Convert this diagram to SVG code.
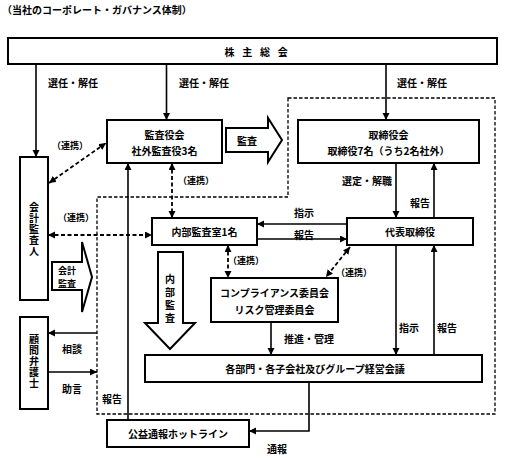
<svg xmlns="http://www.w3.org/2000/svg" width="511" height="458" viewBox="0 0 511 458">
<defs>
<style>
text{font-family:"Noto Sans CJK JP","Noto Sans CJK SC",sans-serif;font-size:10px;font-weight:bold;fill:#000}
.c{text-anchor:middle;dominant-baseline:central}
.v{text-anchor:middle;writing-mode:vertical-rl}
.s{font-size:9px}
.box{fill:#fff;stroke:#000;stroke-width:2}
.blk{fill:#fff;stroke:#000;stroke-width:2;stroke-linejoin:miter}
.ln{fill:none;stroke:#000;stroke-width:1.6}
.dl{fill:none;stroke:#000;stroke-width:1.8;stroke-dasharray:4 2.5}
.fr{fill:none;stroke:#000;stroke-width:1.3;stroke-dasharray:3.5 2}
.a{marker-end:url(#ah)}
.b{marker-start:url(#ah);marker-end:url(#ah)}
</style>
<marker id="ah" markerUnits="userSpaceOnUse" markerWidth="8" markerHeight="8" refX="7" refY="3.5" orient="auto-start-reverse">
<path d="M0,0 L7,3.5 L0,7 Z" fill="#000"/>
</marker>
</defs>
<rect width="511" height="458" fill="#fff"/>
<text x="2" y="14" style="font-size:10px">（当社のコーポレート・ガバナンス体制）</text>

<g id="frame"><path class="fr" d="M288,98 H495 V414 H97 V197 H288 Z"/></g>

<g id="connectors">
<path class="ln a" d="M36,64 V157"/>
<path class="ln a" d="M166.5,64 V120"/>
<path class="ln a" d="M386,64 V120"/>
<path class="ln a" d="M396,163 V218"/>
<path class="ln a" d="M434,218 V163"/>
<path class="ln a" d="M347,224 H257"/>
<path class="ln a" d="M257,239 H347"/>
<path class="ln a" d="M396,245 V355"/>
<path class="ln a" d="M434,355 V245"/>
<path class="ln a" d="M271,322 V355"/>
<path class="ln a" d="M128,420 V163"/>
<path class="ln a" d="M309,382 V431 H249"/>
<path class="ln a" d="M97,333 H48"/>
<path class="ln a" d="M48,372 H97"/>
<path class="dl b" d="M49,183 L106,143"/>
<path class="dl b" d="M172,163 V218"/>
<path class="dl b" d="M48,235 H152"/>
<path class="dl b" d="M228,245 V278"/>
<path class="dl b" d="M350,247 L326,277"/>
</g>

<g id="block-arrows">
<polygon class="blk" points="226,128 268,128 268,118 282,140 268,162 268,152 226,152"/>
<text class="c" x="247" y="140">監査</text>
<polygon class="blk" points="52,262 82,262 82,242 92,277 82,312 82,290 52,290"/>
<text class="c" x="67" y="270" style="font-size:9px">会計</text>
<text class="c" x="67" y="283.5" style="font-size:9px">監査</text>
<polygon class="blk" points="158,252 183,252 183,323 195,323 170,349 145,323 158,323"/>
<text class="v" x="170" y="300" letter-spacing="3">内部監査</text>
</g>

<g id="shareholders"><rect class="box" x="8" y="38" width="489" height="26"/><text class="c" x="260" y="51" letter-spacing="7.7">株主総会</text></g>
<g id="auditors-board"><rect class="box" x="107" y="120" width="115" height="43"/><text class="c" x="164.5" y="134">監査役会</text><text class="c" x="164.5" y="150">社外監査役3名</text></g>
<g id="board"><rect class="box" x="298" y="120" width="181" height="43"/><text class="c" x="388.5" y="134">取締役会</text><text class="c" x="388.5" y="150">取締役7名（うち2名社外）</text></g>
<g id="accounting-auditor"><rect class="box" x="20" y="157" width="28" height="143"/>
<text class="v" x="34" y="229.5" letter-spacing="1">会計監査人</text></g>
<g id="internal-audit"><rect class="box" x="152" y="218" width="105" height="27"/><text class="c" x="204.5" y="231.5">内部監査室1名</text></g>
<g id="president"><rect class="box" x="347" y="218" width="126" height="27"/><text class="c" x="410" y="231.5">代表取締役</text></g>
<g id="compliance"><rect class="box" x="211" y="278" width="127" height="44"/><text class="c" x="274.5" y="292">コンプライアンス委員会</text><text class="c" x="274.5" y="309">リスク管理委員会</text></g>
<g id="lawyer"><rect class="box" x="20" y="317" width="28" height="92"/>
<text class="v" x="34" y="361.5" letter-spacing="1">顧問弁護士</text></g>
<g id="departments"><rect class="box" x="145" y="355" width="337" height="27"/><text class="c" x="315" y="368.5">各部門・各子会社及びグループ経営会議</text></g>
<g id="hotline"><rect class="box" x="107" y="420" width="142" height="27"/><text class="c" x="178" y="433.5">公益通報ホットライン</text></g>

<g id="labels">
<text class="c" x="73" y="82">選任・解任</text>
<text class="c" x="204" y="82">選任・解任</text>
<text class="c" x="422" y="82">選任・解任</text>
<text class="c s" x="70" y="145">（連携）</text>
<text class="c s" x="196" y="180">（連携）</text>
<text class="c s" x="76" y="217">（連携）</text>
<text class="c s" x="246" y="260">（連携）</text>
<text class="c s" x="354" y="272">（連携）</text>
<text class="c" x="367" y="180">選定・解職</text>
<text class="c" x="420" y="202">報告</text>
<text class="c" x="304" y="212">指示</text>
<text class="c" x="304" y="234">報告</text>
<text class="c" x="409" y="327">指示</text>
<text class="c" x="447" y="327">報告</text>
<text class="c" x="309" y="338">推進・管理</text>
<text class="c" x="72" y="348">相談</text>
<text class="c" x="72" y="388">助言</text>
<text class="c" x="112" y="398">報告</text>
<text class="c" x="277" y="448">通報</text>
</g>
</svg>
